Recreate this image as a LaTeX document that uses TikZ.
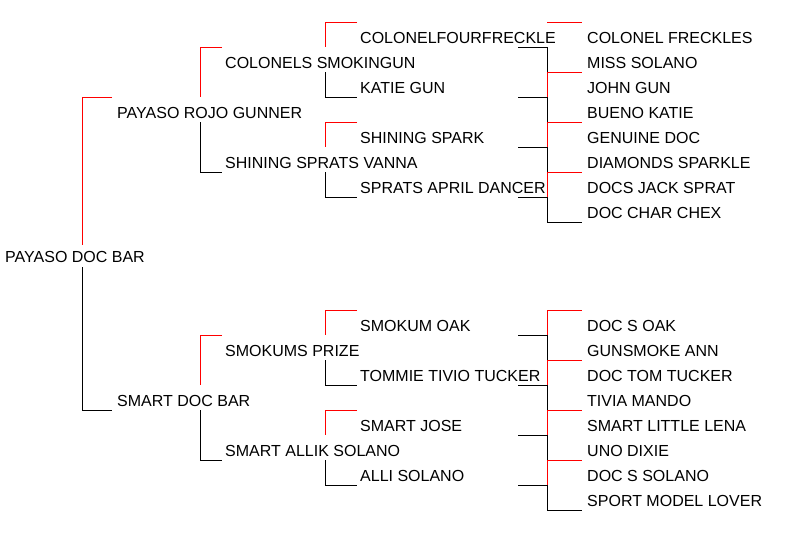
\documentclass[tikz,border=0pt]{standalone}
\usepackage{fontspec}
\setmainfont{Liberation Sans}
\tikzset{x=1pt,y=-1pt,
 lbl/.style={anchor=base west,inner sep=0pt,font=\fontsize{16}{18}\selectfont},
 sire/.style={draw=red,line width=0.9pt},
 dam/.style={draw=black,line width=0.9pt}}
\begin{document}
\begin{tikzpicture}
\useasboundingbox (0,0) rectangle (786,533);
% text, baseline = center+6
\newcommand{\horse}[4]{\node[lbl] (#1) at (#2,#3+6) {#4};}
\horse{r}{5}{256}{PAYASO DOC BAR}
\horse{s}{117}{112}{PAYASO ROJO GUNNER}
\horse{d}{117}{400}{SMART DOC BAR}
\horse{ss}{225}{62}{COLONELS SMOKINGUN}
\horse{sd}{225}{162}{SHINING SPRATS VANNA}
\horse{ds}{225}{350}{SMOKUMS PRIZE}
\horse{dd}{225}{450}{SMART ALLIK SOLANO}
\horse{g1}{360}{37}{COLONELFOURFRECKLE}
\horse{g2}{360}{87}{KATIE GUN}
\horse{g3}{360}{137}{SHINING SPARK}
\horse{g4}{360}{187}{SPRATS APRIL DANCER}
\horse{g5}{360}{325}{SMOKUM OAK}
\horse{g6}{360}{375}{TOMMIE TIVIO TUCKER}
\horse{g7}{360}{425}{SMART JOSE}
\horse{g8}{360}{475}{ALLI SOLANO}
\horse{h1}{587}{37}{COLONEL FRECKLES}
\horse{h2}{587}{62}{MISS SOLANO}
\horse{h3}{587}{87}{JOHN GUN}
\horse{h4}{587}{112}{BUENO KATIE}
\horse{h5}{587}{137}{GENUINE DOC}
\horse{h6}{587}{162}{DIAMONDS SPARKLE}
\horse{h7}{587}{187}{DOCS JACK SPRAT}
\horse{h8}{587}{212}{DOC CHAR CHEX}
\horse{h9}{587}{325}{DOC S OAK}
\horse{h10}{587}{350}{GUNSMOKE ANN}
\horse{h11}{587}{375}{DOC TOM TUCKER}
\horse{h12}{587}{400}{TIVIA MANDO}
\horse{h13}{587}{425}{SMART LITTLE LENA}
\horse{h14}{587}{450}{UNO DIXIE}
\horse{h15}{587}{475}{DOC S SOLANO}
\horse{h16}{587}{500}{SPORT MODEL LOVER}
% root bracket
\draw[sire] (112,97) -- (82,97) -- (82,245);
\draw[dam] (82,267) -- (82,410) -- (112,410);
% gen2 brackets
\foreach \Y in {112,400}{
 \draw[sire] (222,\Y-65) -- (200,\Y-65) -- (200,\Y-15);
 \draw[dam] (200,\Y+10) -- (200,\Y+60) -- (222,\Y+60);}
% gen3 brackets
\foreach \Y in {62,162,350,450}{
 \draw[sire] (357,\Y-40) -- (325,\Y-40) -- (325,\Y-15);
 \draw[dam] (325,\Y+10) -- (325,\Y+35) -- (357,\Y+35);}
% gen4 brackets: black first, red over
\foreach \Y in {37,87,137,187,325,375,425,475}{
 \draw[dam] (518,\Y+10) -- (547,\Y+10) -- (547,\Y+35) -- (582,\Y+35);}
\draw[sire] (547,22) -- (582,22);
\foreach \Y in {87,137,187,325,375,425,475}{
 \draw[sire] (547,\Y+10) -- (547,\Y-15) -- (582,\Y-15);}
\end{tikzpicture}
\end{document}
